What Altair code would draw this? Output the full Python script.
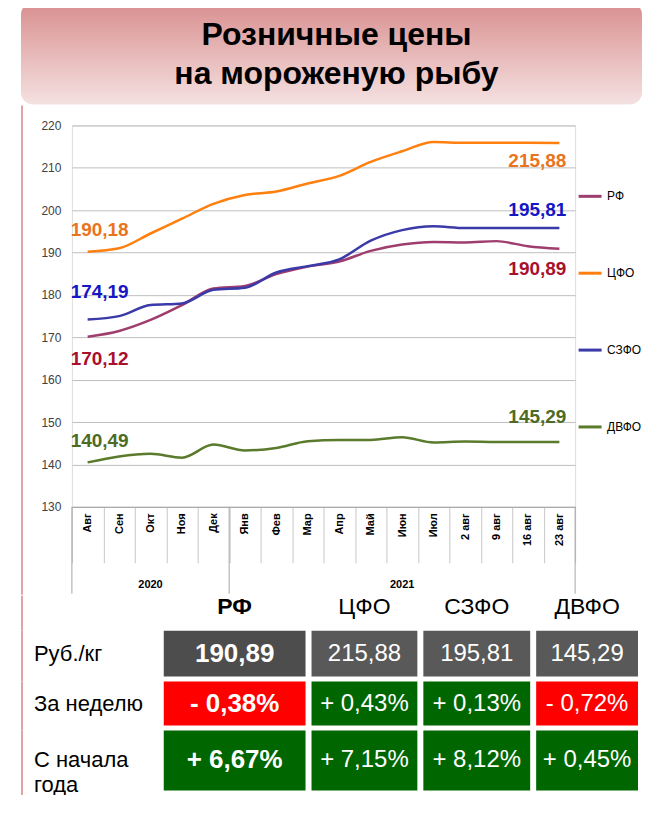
import altair as alt
import pandas as pd

# ---------------- data ----------------
months = ["Авг", "Сен", "Окт", "Ноя", "Дек", "Янв", "Фев", "Мар", "Апр", "Май",
          "Июн", "Июл", "2 авг", "9 авг", "16 авг", "23 авг"]
years = ["2020"] * 5 + ["2021"] * 11
regions = ["РФ", "ЦФО", "СЗФО", "ДВФО"]

series_rf = [170.12, 171.5, 174.1, 177.6, 181.5, 182.1, 184.9, 186.7, 187.9, 190.4,
             191.9, 192.5, 192.4, 192.7, 191.5, 190.89]
series_cfo = [190.18, 191.0, 194.5, 198.0, 201.5, 203.6, 204.4, 206.3, 208.1, 211.4,
              213.9, 216.1, 215.9, 215.9, 215.9, 215.88]
series_szfo = [174.19, 175.0, 177.6, 178.0, 181.2, 181.7, 185.3, 186.8, 188.4, 192.8,
               195.3, 196.2, 195.8, 195.8, 195.8, 195.81]
series_dvfo = [140.49, 141.9, 142.5, 141.6, 144.7, 143.3, 143.9, 145.5, 145.8, 145.8,
               146.4, 145.2, 145.4, 145.3, 145.3, 145.29]
series = [series_rf, series_cfo, series_szfo, series_dvfo]

week_change = [-0.38, 0.43, 0.13, -0.72]
ytd_change = [6.67, 7.15, 8.12, 0.45]
row_labels = ["Руб./кг", "За неделю", "С начала\nгода"]
title_lines = ["Розничные цены", "на мороженую рыбу"]
y_ticks = [130, 140, 150, 160, 170, 180, 190, 200, 210, 220]

# ---------------- style / layout ----------------
FONT = "Liberation Sans"
FRAME = "#E3A3A3"
line_colors = {"РФ": "#9E3D6E", "ЦФО": "#FF7F0F", "СЗФО": "#3A3AA8", "ДВФО": "#5A7A2C"}
label_colors = {"РФ": "#A8102E", "ЦФО": "#E8741E", "СЗФО": "#1616C4", "ДВФО": "#4E6B25"}
start_dy = {"РФ": 22, "ЦФО": -22, "СЗФО": -28, "ДВФО": -21}
end_dy = {"РФ": 20, "ЦФО": 18, "СЗФО": -18, "ДВФО": -25}
PW, PH = 504, 382
LEFT = 51            # space left of the plot origin (frame -> plot)
RIGHT_EDGE = 571     # right end of header / frame, relative to plot origin
HEAD_H = 102
col_widths = [86, 142, 106, 107, 102]
head_row_h = 30
row_heights = [46, 44, 60]
GAP = 5


def num(v):
    return f"{v:.2f}".replace(".", ",")


def pct(v):
    return ("+ " if v >= 0 else "- ") + f"{abs(v):.2f}".replace(".", ",") + "%"


one = pd.DataFrame({"k": [0]})


def frame_v(y0, y1):
    return alt.Chart(one).mark_rect(fill=FRAME).encode(
        x=alt.value(-LEFT), x2=alt.value(-LEFT + 2), y=alt.value(y0), y2=alt.value(y1))


# ---------------- header ----------------
grad = alt.Gradient(
    gradient="linear",
    stops=[alt.GradientStop(offset=0, color="#D98F8F"),
           alt.GradientStop(offset=1, color="#F5E1E1")],
    x1=0, x2=0, y1=0, y2=1,
)
title_df = pd.DataFrame({"t": title_lines, "line": [0, 1]})
header = alt.layer(
    alt.Chart(one).mark_rect(fill=grad, cornerRadius=12).encode(
        x=alt.value(-LEFT), x2=alt.value(RIGHT_EDGE), y=alt.value(0), y2=alt.value(HEAD_H)),
    alt.Chart(title_df.iloc[[0]]).mark_text(
        fontSize=32, fontWeight="bold", font=FONT, align="center",
        baseline="alphabetic", color="#000000").encode(
        x=alt.value(265), y=alt.value(42), text="t:N"),
    alt.Chart(title_df.iloc[[1]]).mark_text(
        fontSize=32, fontWeight="bold", font=FONT, align="center",
        baseline="alphabetic", color="#000000").encode(
        x=alt.value(265), y=alt.value(82), text="t:N"),
).properties(width=PW, height=HEAD_H, view=alt.ViewBackground(stroke=None))

# ---------------- line chart ----------------
long = pd.DataFrame([
    {"month": m, "year": y, "region": r, "value": v}
    for r, s in zip(regions, series) for m, y, v in zip(months, years, s)
])

xscale = alt.Scale(type="band", domain=months, paddingInner=0, paddingOuter=0)
yscale = alt.Scale(domain=[130, 220], nice=False, zero=False)
x_axis = alt.Axis(title=None, labelAngle=-90, labelFont=FONT, labelFontSize=11,
                  labelFontWeight="bold", labelColor="#000000", tickBand="extent",
                  tickSize=56, tickColor="#C8C8C8", labelPadding=-50,
                  domainColor="#A6A6A6", grid=False)
y_axis = alt.Axis(title=None, values=y_ticks, domain=False, ticks=False,
                  gridColor="#BFBFBF", gridWidth=1, labelFont=FONT, labelFontSize=12,
                  labelColor="#404040", labelPadding=11, minExtent=LEFT, maxExtent=LEFT)


def X(bp=0.5, field="month"):
    return alt.X(f"{field}:N", scale=xscale, axis=x_axis, bandPosition=bp)


Y = alt.Y("value:Q", scale=yscale, axis=y_axis)

legend = alt.Legend(orient="none", legendX=506, legendY=58, direction="vertical",
                    title=None, symbolType="stroke", symbolStrokeWidth=3,
                    symbolSize=529, labelFont=FONT, labelFontSize=12,
                    labelColor="#000000", rowPadding=58, padding=0, labelOffset=4)

lines = alt.Chart(long).mark_line(interpolate="monotone", strokeWidth=2.5).encode(
    x=X(), y=Y,
    color=alt.Color("region:N", scale=alt.Scale(domain=regions,
                    range=[line_colors[r] for r in regions]), legend=legend),
)

texts = []
for r, s in zip(regions, series):
    d0 = pd.DataFrame({"month": [months[0]], "value": [s[0]], "label": [num(s[0])]})
    d1 = pd.DataFrame({"month": [months[-1]], "value": [s[-1]], "label": [num(s[-1])]})
    texts.append(alt.Chart(d0).mark_text(
        align="left", baseline="middle", dx=-17, dy=start_dy[r], fontSize=19,
        fontWeight="bold", font=FONT, color=label_colors[r]).encode(
        x=X(), y=Y, text="label:N"))
    texts.append(alt.Chart(d1).mark_text(
        align="right", baseline="middle", dx=7, dy=end_dy[r], fontSize=19,
        fontWeight="bold", font=FONT, color=label_colors[r]).encode(
        x=X(), y=Y, text="label:N"))

groups = list(dict.fromkeys(years))
grp_rows = []
for g in groups:
    ms = [m for m, y in zip(months, years) if y == g]
    grp_rows.append({"year": g, "month": ms[len(ms) // 2], "first": ms[0]})
grp = pd.DataFrame(grp_rows)

sep_start = alt.Chart(grp).mark_rule(color="#A6A6A6", strokeWidth=1).encode(
    x=X(0, "first"), y=alt.value(PH), y2=alt.value(PH + 87))
sep_end = alt.Chart(pd.DataFrame({"month": [months[-1]]})).mark_rule(
    color="#A6A6A6", strokeWidth=1).encode(
    x=X(1), y=alt.value(PH), y2=alt.value(PH + 87))
grp_text = alt.Chart(grp).mark_text(fontSize=11, fontWeight="bold", font=FONT,
                                    color="#000000", baseline="middle").encode(
    x=X(), y=alt.value(PH + 78), text="year:N")

chart = alt.layer(lines, *texts, sep_start, sep_end, grp_text,
                  frame_v(-20, PH + 88)).properties(width=PW, height=PH)


# ---------------- table ----------------
def cell(text, w, h, bg=None, color="#000000", size=22, weight="normal",
         align="center", x=None, dy=0, frame=False):
    enc = {"text": "t:N"}
    if x is not None:
        enc["x"] = alt.value(x)
    layers = [alt.Chart(pd.DataFrame({"t": [text]})).mark_text(
        font=FONT, fontSize=size, fontWeight=weight, color=color, align=align,
        baseline="middle", dy=dy, lineBreak="\n", lineHeight=25).encode(**enc)]
    if frame:
        layers.append(frame_v(0, h + GAP))
    view = alt.ViewBackground(stroke=None, fill=bg) if bg else alt.ViewBackground(stroke=None)
    return alt.layer(*layers).properties(width=w, height=h, view=view)


rows = []
hdr = [cell("", col_widths[0], head_row_h, frame=True)]
for i, r in enumerate(regions):
    hdr.append(cell(r, col_widths[i + 1], head_row_h, size=23,
                    weight="bold" if i == 0 else "normal", dy=-4))
rows.append(alt.hconcat(*hdr, spacing=6, bounds="flush"))

prices = [s[-1] for s in series]
table_rows = [
    [(num(v), "#4D4D4D" if i == 0 else "#595959") for i, v in enumerate(prices)],
    [(pct(v), "#FF0000" if v < 0 else "#006600") for v in week_change],
    [(pct(v), "#FF0000" if v < 0 else "#006600") for v in ytd_change],
]
for lab, h, vals in zip(row_labels, row_heights, table_rows):
    cs = [cell(lab, col_widths[0], h, align="left", x=-38, frame=True)]
    for i, (t, bg) in enumerate(vals):
        cs.append(cell(t, col_widths[i + 1], h, bg=bg, color="#FFFFFF",
                       size=26 if i == 0 else 24, weight="bold" if i == 0 else "normal"))
    rows.append(alt.hconcat(*cs, spacing=6, bounds="flush"))

footer = alt.layer(
    frame_v(0, 4),
    alt.Chart(one).mark_rect(fill=FRAME).encode(
        x=alt.value(-LEFT), x2=alt.value(RIGHT_EDGE), y=alt.value(2), y2=alt.value(4)),
).properties(width=PW, height=4, view=alt.ViewBackground(stroke=None))
rows.append(footer)

table = alt.vconcat(*rows, spacing=0)

final = alt.vconcat(header, chart, table, spacing=0).resolve_scale(
    color="independent").resolve_legend(color="independent").properties(
    padding={"left": 12, "top": -6, "right": 0, "bottom": -6}
).configure_view(stroke=None).configure(font=FONT, background="white")

final.save("out.html", embed_options={"renderer": "svg", "actions": False})
